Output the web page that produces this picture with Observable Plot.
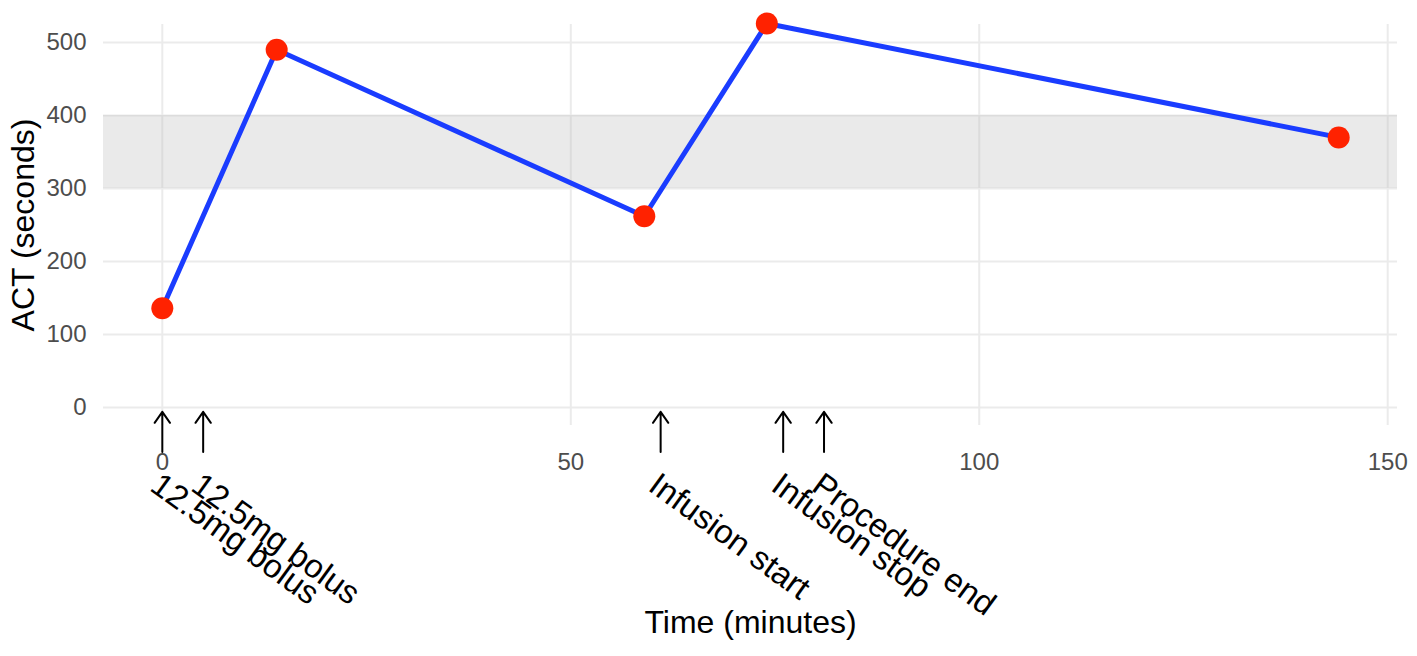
<!DOCTYPE html>
<html>
<head>
<meta charset="utf-8">
<script src="https://cdn.jsdelivr.net/npm/d3@7"></script>
<script src="https://cdn.jsdelivr.net/npm/@observablehq/plot@0.6"></script>
<style>
  html, body { margin: 0; padding: 0; background: #ffffff; }
  #chart svg { display: block; }
</style>
</head>
<body>
<div id="chart"></div>
<script>
// ---- data ----
const times = [0, 14, 59, 74, 144];              // minutes
const actValues = [136, 490, 262, 526, 370];     // ACT (seconds)
const eventTimes = [0, 5, 61, 76, 81];           // event arrows (minutes)
const eventLabels = ["12.5mg bolus", "12.5mg bolus", "Infusion start", "Infusion stop", "Procedure end"];
const xTicks = [0, 50, 100, 150];
const yTicks = [0, 100, 200, 300, 400, 500];
const targetRange = [{low: 300, high: 400}];

const points = times.map((t, i) => ({t, act: actValues[i]}));
const events = eventTimes.map((t, i) => ({t, label: eventLabels[i]}));

const FONT = '"Liberation Sans", Arial, Helvetica, sans-serif';

const chart = Plot.plot({
  width: 1417,
  height: 656,
  marginTop: 24,
  marginBottom: 231,
  marginLeft: 103,
  marginRight: 20,
  style: {fontFamily: FONT, background: "#ffffff", overflow: "visible"},
  x: {domain: [-7.2, 151.2]},
  y: {domain: [-24.7, 524.7]},
  marks: [
    Plot.gridY(yTicks, {stroke: "#ebebeb", strokeOpacity: 1, strokeWidth: 2}),
    Plot.gridX(xTicks, {stroke: "#ebebeb", strokeOpacity: 1, strokeWidth: 2}),
    Plot.rect(targetRange, {y1: "low", y2: "high", fill: "#bebebe", fillOpacity: 0.33}),
    Plot.axisY(yTicks, {tickSize: 0, tickPadding: 17, fontSize: 24, fill: "#4d4d4d", label: null}),
    Plot.axisX(xTicks, {tickSize: 0, tickPadding: 27, fontSize: 24, fill: "#4d4d4d", label: null}),
    Plot.line(points, {x: "t", y: "act", stroke: "#1a3cff", strokeWidth: 5}),
    Plot.dot(points, {x: "t", y: "act", r: 11, fill: "#ff2200", stroke: "none"}),
    Plot.arrow(events, {x1: "t", x2: "t", y1: () => -61, y2: () => -6, stroke: "#000000", strokeWidth: 2, headLength: 11, headAngle: 70}),
    Plot.text(events, {x: "t", y: () => -86.4, text: "label", rotate: 36, textAnchor: "start", lineAnchor: "top", fontSize: 33, fill: "#000000"}),
    Plot.text(["Time (minutes)"], {frameAnchor: "bottom", text: d => d, dy: 207, textAnchor: "middle", lineAnchor: "bottom", fontSize: 32, fill: "#000000"}),
    Plot.text(["ACT (seconds)"], {frameAnchor: "left", text: d => d, rotate: -90, dx: -70, textAnchor: "middle", lineAnchor: "bottom", fontSize: 32, fill: "#000000"})
  ]
});

document.getElementById("chart").appendChild(chart);
</script>
</body>
</html>
